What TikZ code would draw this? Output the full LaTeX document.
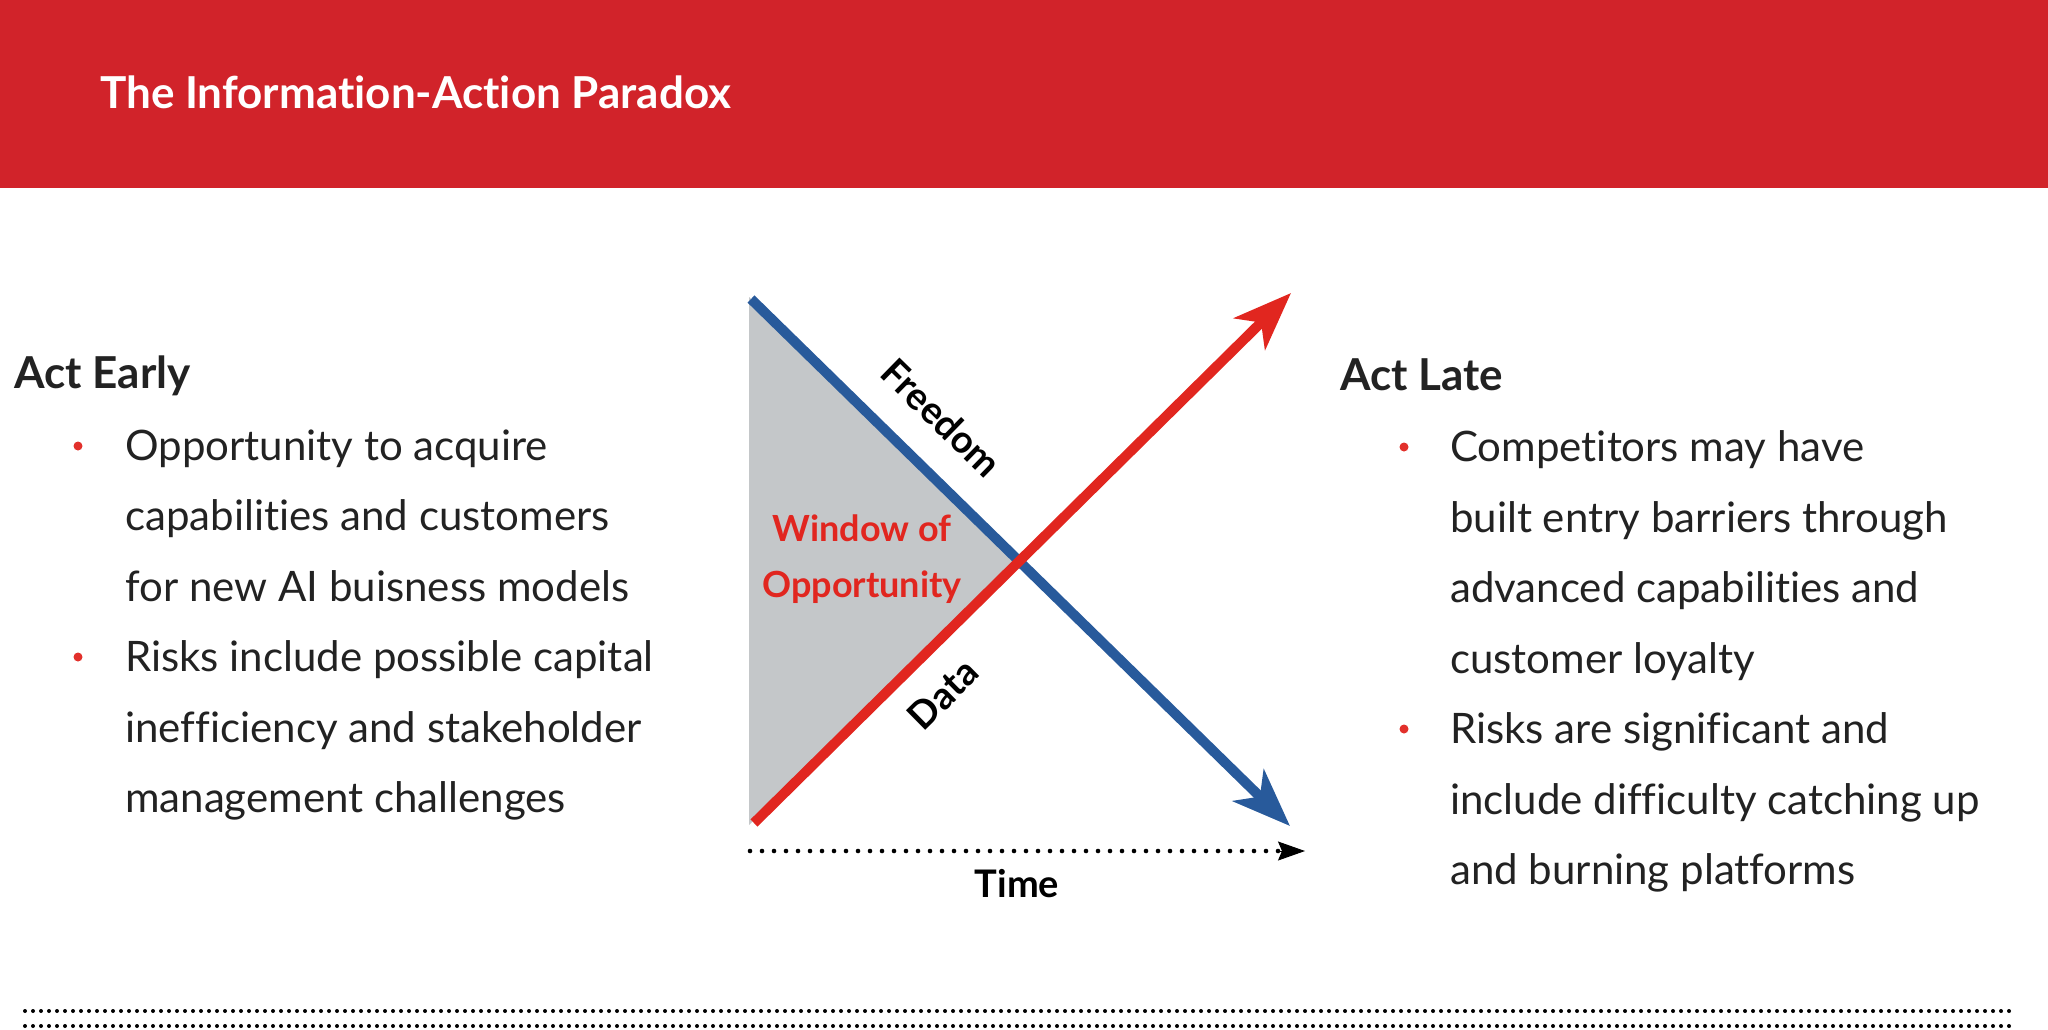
\documentclass[tikz,border=0pt]{standalone}
\usepackage{fontspec}
\setmainfont{Lato}[Ligatures=NoCommon]
\usetikzlibrary{arrows.meta}
\definecolor{hdrred}{HTML}{D1232A}
\definecolor{arred}{HTML}{E1261F}
\definecolor{arblue}{HTML}{285A9B}
\definecolor{wingray}{HTML}{C4C7C9}
\definecolor{txt}{HTML}{222222}
\definecolor{bul}{HTML}{E2302B}
\begin{document}
\begin{tikzpicture}[x=1pt,y=-1pt,
  body/.style={anchor=base west, inner sep=0pt, font=\fontsize{42}{50}\selectfont, text=txt},
  head/.style={anchor=base west, inner sep=0pt, font=\fontsize{44}{50}\selectfont\bfseries, text=txt},
  bulletdot/.style={circle, fill=bul, inner sep=0pt, minimum size=9pt},
  lbl/.style={inner sep=0pt, font=\fontsize{38}{44}\selectfont\bfseries, text=black},
  winlbl/.style={anchor=base, inner sep=0pt, font=\fontsize{36}{42}\selectfont\bfseries, text=arred},
  bigline/.style={line width=10pt},
  bighead/.style={-{Stealth[length=58pt, width=44pt, inset=16pt]}},
  timedots/.style={line width=4.6pt, line cap=round, dash pattern=on 0pt off 12pt},
  footdots/.style={line width=4pt, line cap=round, dash pattern=on 0pt off 8pt},
]
\useasboundingbox (0,0) rectangle (2048,1029);
% header
\fill[hdrred] (0,0) rectangle (2048,188);
\node[anchor=base west, inner sep=0pt, text=white, font=\fontsize{44}{50}\selectfont\bfseries] (title) at (100,108) {The Information-Action Paradox};

% diagram coordinates
\coordinate (bstart) at (751,299);
\coordinate (bend) at (1290,826);
\coordinate (rstart) at (754,823);
\coordinate (rend) at (1291,293);
\coordinate (cross) at (1019,561);

\fill[wingray] (749,297) -- (749,825) -- (cross) -- cycle;
\draw[bigline, arblue, bighead] (bstart) -- (bend);
\draw[bigline, arred, bighead] (rstart) -- (rend);

\node[lbl, rotate=-44.35] (freedom) at (942,418) {Freedom};
\node[lbl, rotate=44.6] (data) at (943,694) {Data};
\node[winlbl] (win1) at (862,541) {Window of};
\node[winlbl] (win2) at (862,597) {Opportunity};

% time axis
\coordinate (t0) at (750,851);
\coordinate (t1) at (1280,851);
\coordinate (t2) at (1305,851);
\draw[timedots] (t0) -- (t1);
\draw[line width=1pt, -{Stealth[length=27pt, width=19pt, inset=4pt]}] (1276,851) -- (t2);
\node[lbl, anchor=center] (time) at (1017,884) {Time};

% left text
\node[head] (early) at (14,388) {Act Early};
\node[bulletdot] (lb1) at (78,446) {};
\node[body] (l1) at (125,460) {Opportunity to acquire};
\node[body] (l2) at (125,530) {capabilities and customers};
\node[body] (l3) at (125,601) {for new AI buisness models};
\node[bulletdot] (lb2) at (78,657) {};
\node[body] (l4) at (125,671) {Risks include possible capital};
\node[body] (l5) at (125,742) {inefficiency and stakeholder};
\node[body] (l6) at (125,812) {management challenges};

% right text
\node[head] (late) at (1340,390) {Act Late};
\node[bulletdot] (rb1) at (1404,447) {};
\node[body] (r1) at (1450,461) {Competitors may have};
\node[body] (r2) at (1450,532) {built entry barriers through};
\node[body] (r3) at (1450,602) {advanced capabilities and};
\node[body] (r4) at (1450,673) {customer loyalty};
\node[bulletdot] (rb2) at (1404,729) {};
\node[body] (r5) at (1450,743) {Risks are significant and};
\node[body] (r6) at (1450,814) {include difficulty catching up};
\node[body] (r7) at (1450,884) {and burning platforms};

% footer dotted lines
\coordinate (f1a) at (25,1011);
\coordinate (f1b) at (2012,1011);
\coordinate (f2a) at (25,1026);
\coordinate (f2b) at (2012,1026);
\draw[footdots] (f1a) -- (f1b);
\draw[footdots] (f2a) -- (f2b);
\end{tikzpicture}
\end{document}
